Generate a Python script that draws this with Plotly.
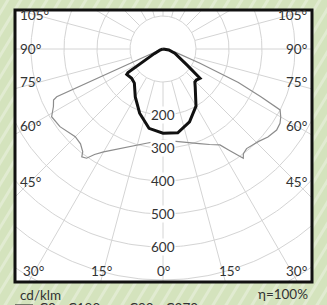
import numpy as np
import plotly.graph_objects as go

# ---------------- data ----------------
# gamma angle in degrees (negative = left half), luminous intensity in cd/klm
c0_gamma = [-90, -70, -62, -58, -56, -55, -47, -40, -35, -30, -20, -10, 0,
            10, 20, 30, 40, 44, 47, 51.6, 56, 62, 70, 80, 90]
c0_int = [0, 10, 30, 70, 128, 134, 130, 135, 150, 168, 207, 244, 255,
          258, 235, 200, 152, 139, 138, 143, 90, 60, 38, 18, 0]

c90_gamma = [-90, -75, -68, -66.5, -65.8, -65, -62.3, -58.7, -53, -45, -41, -38, -37,
             -35, -33, -30, -25, -20, -10, 0, 10, 15, 21, 26, 30.7, 33, 35, 36.3,
             37.5, 40, 46, 50, 54.5, 57.6, 60, 62.5, 64, 66, 69, 75, 90]
c90_int = [0, 10, 40, 120, 353, 366, 375, 395, 391, 376, 381, 395, 409,
           404, 381, 360, 335, 318, 290, 276, 286, 295, 307, 322, 338, 365, 392, 411,
           400, 394, 403, 415, 423, 420, 412, 400, 330, 250, 120, 40, 0]

series_names = ["C0 - C180", "C90 - C270"]
ring_values = [100, 200, 300, 400, 500, 600, 700, 800]
ring_labels = [200, 300, 400, 500, 600]
spoke_step = 15
side_labels = ["105°", "90°", "75°", "60°", "45°"]
bottom_labels = ["30°", "15°", "0°", "15°", "30°"]
unit_text = "cd/klm"
eff_text = "η=100%"

# ---------------- geometry helpers ----------------
W, H = 327, 305
L, R, T, B = 15, 312, 10, 282          # plot box in pixels
CX, CY = 163, 49                        # polar centre in pixels
S = 0.33                                # pixels per cd/klm


def polar_xy(g_deg, r):
    g = np.radians(np.asarray(g_deg, dtype=float))
    r = np.asarray(r, dtype=float)
    return r * np.sin(g), -r * np.cos(g)


def px_to_paper(px, py):
    return (px - L) / (R - L), 1 - (py - T) / (B - T)


FONT = "Lato, 'Open Sans', sans-serif"
TXT = "#333333"
C0_COLOR, C90_COLOR = "#111111", "#8c8c8c"

fig = go.Figure()

# grid rings
for rv in ring_values:
    a = np.linspace(0, 360, 361)
    x, y = polar_xy(a, np.full_like(a, rv))
    fig.add_trace(go.Scatter(x=x, y=y, mode="lines", line=dict(color="#d4d4d4", width=1),
                             hoverinfo="skip", showlegend=False))
# grid spokes
for k in range(0, 360, spoke_step):
    x, y = polar_xy([k, k], [100, 1200])
    fig.add_trace(go.Scatter(x=x, y=y, mode="lines", line=dict(color="#d4d4d4", width=1),
                             hoverinfo="skip", showlegend=False))

# curves
x, y = polar_xy(c90_gamma, c90_int)
fig.add_trace(go.Scatter(x=x, y=y, mode="lines", name=series_names[1], showlegend=False,
                         line=dict(color=C90_COLOR, width=1.2)))
x, y = polar_xy(c0_gamma, c0_int)
fig.add_trace(go.Scatter(x=x, y=y, mode="lines", name=series_names[0], showlegend=False,
                         line=dict(color=C0_COLOR, width=3)))

# ---------------- annotations ----------------
ann = []
fnt = dict(size=13.5, color=TXT, family=FONT)
for rv in ring_labels:
    ann.append(dict(x=0, y=-rv, xref="x", yref="y", text=str(rv), showarrow=False,
                    bgcolor="white", borderpad=0, font=fnt))

side_py = [15, 49, 82, 126, 182]
for lab, py in zip(side_labels, side_py):
    xl, yl = px_to_paper(18, py)
    ann.append(dict(x=xl, y=yl, xref="paper", yref="paper", text=lab, showarrow=False,
                    xanchor="left", yanchor="middle", font=fnt))
    xr, yr = px_to_paper(309, py)
    ann.append(dict(x=xr, y=yr, xref="paper", yref="paper", text=lab, showarrow=False,
                    xanchor="right", yanchor="middle", font=fnt))

bottom_px = [33, 101, 163, 229, 296]
for lab, px in zip(bottom_labels, bottom_px):
    xb, yb = px_to_paper(px, 271)
    ann.append(dict(x=xb, y=yb, xref="paper", yref="paper", text=lab, showarrow=False,
                    xanchor="center", yanchor="middle", font=fnt))

xu, yu = px_to_paper(18, 295)
ann.append(dict(x=xu, y=yu, xref="paper", yref="paper", text=unit_text, showarrow=False,
                xanchor="left", yanchor="middle", font=fnt))
xe, ye = px_to_paper(310, 294)
ann.append(dict(x=xe, y=ye, xref="paper", yref="paper", text=eff_text, showarrow=False,
                xanchor="right", yanchor="middle", font=fnt))

shapes = []
# ---------------- background shapes ----------------
for i in range(-30, 40):
    x0p, y0p = -40 + i * 13, H + 10
    x1p, y1p = x0p + 200, y0p - 330
    a0 = px_to_paper(x0p, y0p)
    a1 = px_to_paper(x1p, y1p)
    shapes.append(dict(type="line", xref="paper", yref="paper", x0=a0[0], y0=a0[1],
                       x1=a1[0], y1=a1[1], line=dict(color="rgba(255,255,255,0.3)", width=3),
                       layer="below"))
shapes.append(dict(type="rect", xref="paper", yref="paper", x0=0, y0=0, x1=1, y1=1,
                   fillcolor="white", line=dict(width=0), layer="below"))
shapes.append(dict(type="rect", xref="paper", yref="paper", x0=0, y0=0, x1=1, y1=1,
                   line=dict(color="#111111", width=3), layer="above"))

# manual legend (cut by the bottom edge like the reference)
leg_items = [(series_names[0], C0_COLOR, 3, 15, 33, 37),
             (series_names[1], C90_COLOR, 1.2, 106, 121, 127)]
for name, col, lw, sx0, sx1, tx in leg_items:
    p0 = px_to_paper(sx0, 306)
    p1 = px_to_paper(sx1, 306)
    shapes.append(dict(type="line", xref="paper", yref="paper", x0=p0[0], y0=p0[1],
                       x1=p1[0], y1=p1[1], line=dict(color=col, width=lw), layer="above"))
    pt = px_to_paper(tx, 308)
    ann.append(dict(x=pt[0], y=pt[1], xref="paper", yref="paper", text=name, showarrow=False,
                    xanchor="left", yanchor="middle", font=fnt))

xr0 = (L - CX) / S
xr1 = (R - CX) / S
yr1 = (CY - T) / S
yr0 = -(B - CY) / S

fig.update_layout(
    width=W, height=H,
    margin=dict(l=L, r=W - R, t=T, b=H - B, pad=0),
    paper_bgcolor="#d4e3bd",
    plot_bgcolor="rgba(0,0,0,0)",
    xaxis=dict(range=[xr0, xr1], visible=False, fixedrange=True),
    yaxis=dict(range=[yr0, yr1], visible=False, fixedrange=True),
    annotations=ann,
    shapes=shapes,
    showlegend=False,
)

fig.write_html("out.html", config={"displayModeBar": False},
               post_script="document.body.style.margin='0';document.body.style.overflow='hidden';")
